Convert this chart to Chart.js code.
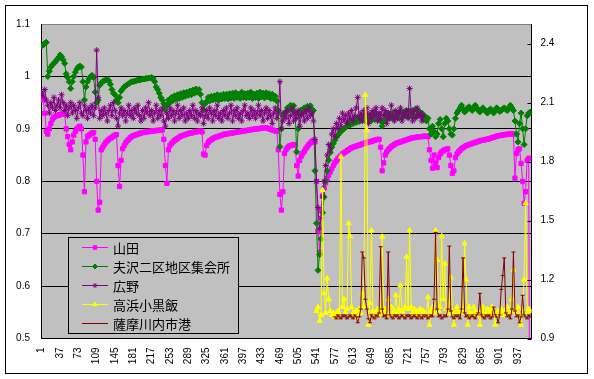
<!DOCTYPE html>
<html><head><meta charset="utf-8">
<script src="https://cdn.jsdelivr.net/npm/chart.js@4.4.0/dist/chart.umd.min.js"></script>
<style>html,body{margin:0;padding:0;background:#fff}#wrap{width:594px;height:379px;position:relative}</style>
</head><body><div id="wrap"><canvas id="c" width="594" height="379"></canvas></div>
<script>
// ---- tick labels ----
const xTickLabels = [1,37,73,109,145,181,217,253,289,325,361,397,433,469,505,541,577,613,649,685,721,757,793,829,865,901,937];
const leftTicks = [0.5,0.6,0.7,0.8,0.9,1.0,1.1];
const rightTicks = [0.9,1.2,1.5,1.8,2.1,2.4];
const seriesNames = ['山田','夫沢二区地区集会所','広野','高浜小黒飯','薩摩川内市港'];

// categories are sampled every gridStep (category index = start + gridStep*k)
const gridStep = 3;

// 山田 (left axis), categories 1..961
const yamadaStart = 1;
const yamada = [
0.958,0.955,0.93,0.895,0.89,0.9,0.91,0.918,0.922,0.924,0.925,0.926,0.927,0.928,0.93,0.928,0.9,0.885,0.87,0.86,
0.875,0.888,0.895,0.9,0.903,0.905,0.9,0.85,0.78,0.875,0.885,0.888,0.89,0.892,0.893,0.88,0.8,0.745,0.76,0.86,
0.865,0.87,0.874,0.877,0.88,0.882,0.884,0.886,0.888,0.889,0.83,0.79,0.84,0.862,0.868,0.873,0.877,0.88,0.883,0.885,
0.887,0.888,0.889,0.89,0.891,0.892,0.893,0.893,0.894,0.894,0.895,0.895,0.896,0.896,0.896,0.897,0.897,0.897,0.898,0.898,
0.88,0.83,0.796,0.86,0.868,0.872,0.875,0.878,0.88,0.882,0.884,0.886,0.887,0.888,0.889,0.89,0.891,0.892,0.892,0.893,
0.894,0.894,0.895,0.895,0.896,0.894,0.852,0.85,0.868,0.874,0.877,0.879,0.881,0.883,0.884,0.885,0.886,0.887,0.888,0.889,
0.89,0.89,0.891,0.891,0.892,0.892,0.893,0.893,0.894,0.894,0.895,0.895,0.896,0.896,0.897,0.897,0.898,0.898,0.899,0.899,
0.9,0.9,0.9,0.901,0.901,0.902,0.902,0.902,0.901,0.9,0.899,0.898,0.897,0.896,0.895,0.86,0.775,0.745,0.78,0.853,
0.86,0.864,0.867,0.868,0.869,0.87,0.87,0.83,0.81,0.84,0.848,0.853,0.857,0.862,0.866,0.87,0.873,0.876,0.878,0.875,
0.8,0.705,0.665,0.745,0.772,0.787,0.797,0.805,0.812,0.818,0.824,0.83,0.835,0.839,0.843,0.846,0.849,0.852,0.854,0.856,
0.858,0.86,0.862,0.864,0.865,0.866,0.867,0.868,0.869,0.87,0.871,0.872,0.873,0.874,0.875,0.875,0.876,0.877,0.878,0.879,
0.88,0.88,0.865,0.82,0.835,0.85,0.856,0.86,0.863,0.866,0.868,0.87,0.872,0.873,0.874,0.875,0.876,0.877,0.878,0.879,
0.88,0.881,0.882,0.883,0.883,0.884,0.884,0.885,0.885,0.885,0.886,0.886,0.886,0.885,0.86,0.84,0.825,0.85,0.835,0.826,
0.845,0.852,0.856,0.858,0.86,0.861,0.862,0.85,0.83,0.815,0.82,0.845,0.852,0.856,0.859,0.862,0.864,0.866,0.868,0.869,
0.87,0.871,0.872,0.873,0.874,0.875,0.876,0.877,0.878,0.878,0.879,0.88,0.88,0.881,0.882,0.883,0.884,0.885,0.886,0.887,
0.887,0.888,0.888,0.889,0.889,0.89,0.89,0.89,0.891,0.89,0.806,0.853,0.86,0.862,0.834,0.8,0.758,0.78,0.84,0.844,
0.0];

// 夫沢二区地区集会所 (left axis), categories 1..961
const futazawaStart = 1;
const futazawa = [
1.058,1.06,1.063,1.065,1.0,1.01,1.018,1.022,1.025,1.028,1.032,1.036,1.041,1.038,1.032,1.025,1.005,0.998,0.99,0.977,
0.99,1.0,1.008,1.014,1.018,1.02,1.018,0.99,0.955,0.98,0.99,0.996,1.0,1.002,0.998,0.97,0.95,0.955,0.983,0.988,
0.99,0.992,0.993,0.994,0.992,0.985,0.975,0.968,0.965,0.955,0.95,0.96,0.972,0.976,0.98,0.982,0.984,0.986,0.988,0.99,
0.99,0.991,0.992,0.993,0.993,0.994,0.995,0.995,0.996,0.996,0.997,0.997,0.998,0.996,0.99,0.98,0.975,0.968,0.96,0.955,
0.948,0.936,0.945,0.955,0.95,0.96,0.954,0.963,0.956,0.965,0.958,0.967,0.96,0.969,0.962,0.97,0.964,0.972,0.965,0.974,
0.968,0.976,0.97,0.975,0.966,0.95,0.936,0.948,0.952,0.96,0.953,0.962,0.955,0.963,0.956,0.965,0.955,0.964,0.957,0.966,
0.958,0.966,0.957,0.967,0.959,0.968,0.958,0.969,0.96,0.966,0.958,0.97,0.96,0.967,0.959,0.968,0.96,0.97,0.958,0.966,
0.96,0.968,0.958,0.97,0.961,0.968,0.959,0.969,0.961,0.967,0.958,0.966,0.957,0.962,0.953,0.935,0.866,0.9,0.925,0.93,
0.933,0.94,0.936,0.945,0.938,0.944,0.932,0.856,0.9,0.928,0.936,0.932,0.94,0.935,0.943,0.937,0.944,0.936,0.935,0.82,
0.72,0.63,0.66,0.69,0.74,0.77,0.8,0.82,0.84,0.855,0.865,0.872,0.878,0.884,0.888,0.892,0.895,0.898,0.9,0.903,
0.905,0.912,0.907,0.916,0.91,0.92,0.912,0.922,0.914,0.924,0.916,0.926,0.915,0.927,0.917,0.925,0.916,0.928,0.918,0.93,
0.92,0.928,0.915,0.905,0.915,0.925,0.918,0.93,0.92,0.928,0.92,0.932,0.922,0.93,0.921,0.934,0.922,0.932,0.924,0.935,
0.923,0.934,0.925,0.935,0.924,0.938,0.926,0.934,0.925,0.93,0.918,0.924,0.915,0.92,0.9,0.89,0.905,0.895,0.885,0.89,
0.91,0.918,0.9,0.885,0.91,0.92,0.915,0.9,0.89,0.888,0.9,0.92,0.93,0.935,0.94,0.945,0.938,0.932,0.935,0.94,
0.942,0.938,0.935,0.94,0.945,0.94,0.935,0.932,0.936,0.94,0.937,0.933,0.93,0.935,0.938,0.934,0.93,0.935,0.94,0.937,
0.933,0.935,0.938,0.94,0.937,0.935,0.94,0.945,0.94,0.935,0.915,0.89,0.875,0.91,0.93,0.9,0.87,0.9,0.925,0.93,
0.932];

// 広野 (left axis), categories 1..751
const hironoStart = 1;
const hirono = [
0.97,0.962,0.975,0.955,0.945,0.93,0.95,0.94,0.96,0.935,0.945,0.955,0.94,0.965,0.95,0.935,0.945,0.925,0.94,0.95,
0.93,0.945,0.935,0.92,0.94,0.95,0.93,0.925,0.945,0.935,0.92,0.94,0.93,0.945,0.925,0.94,1.05,0.96,0.92,0.935,
0.925,0.94,0.93,0.915,0.935,0.945,0.925,0.95,0.935,0.92,0.905,0.93,0.94,0.925,0.935,0.915,0.93,0.945,0.925,0.935,
0.92,0.94,0.93,0.945,0.925,0.915,0.935,0.92,0.94,0.93,0.95,0.925,0.935,0.915,0.93,0.945,0.92,0.935,0.925,0.94,
0.915,0.905,0.93,0.92,0.94,0.925,0.935,0.915,0.93,0.945,0.92,0.935,0.925,0.94,0.915,0.93,0.92,0.935,0.925,0.945,
0.92,0.935,0.915,0.93,0.925,0.94,0.91,0.925,0.935,0.92,0.94,0.93,0.915,0.935,0.925,0.945,0.92,0.93,0.915,0.935,
0.925,0.94,0.92,0.93,0.945,0.915,0.935,0.925,0.94,0.92,0.93,0.915,0.935,0.945,0.925,0.93,0.92,0.94,0.925,0.935,
0.92,0.93,0.945,0.925,0.935,0.915,0.93,0.94,0.92,0.935,0.925,0.91,0.93,0.94,0.92,0.93,0.99,0.9,0.915,0.93,
0.92,0.935,0.91,0.925,0.94,0.915,0.93,0.92,0.935,0.905,0.925,0.93,0.915,0.935,0.92,0.94,0.925,0.93,0.915,0.88,
0.8,0.75,0.71,0.73,0.77,0.8,0.83,0.85,0.87,0.86,0.89,0.9,0.885,0.91,0.9,0.92,0.905,0.93,0.915,0.925,
0.91,0.93,0.92,0.935,0.915,0.925,0.94,0.96,0.92,0.93,0.915,0.935,0.925,0.94,0.91,0.93,0.92,0.935,0.925,0.94,
0.915,0.93,0.92,0.94,0.925,0.935,0.91,0.93,0.92,0.945,0.925,0.915,0.935,0.92,0.93,0.94,0.915,0.93,0.925,0.935,
0.92,0.977,0.93,0.915,0.935,0.92,0.94,0.925,0.93,0.915,0.925];

// 高浜小黒飯 (right axis), categories 541..961
const takahamaStart = 541;
const takahama = [
1.04,1.06,0.99,1.02,1.655,1.13,1.03,1.206,1.1,1.04,1.02,1.03,1.01,1.03,1.04,1.02,1.825,1.06,1.1,1.03,
1.05,1.486,1.42,1.06,1.03,1.02,1.04,1.01,1.05,1.03,1.13,1.06,2.139,1.96,0.97,1.08,1.45,1.04,1.02,1.03,
1.05,1.02,1.04,1.418,1.03,1.05,1.02,1.1,1.03,1.06,1.02,1.04,1.12,1.03,1.05,1.17,1.04,1.02,1.06,1.316,
1.05,1.45,1.06,1.03,1.05,1.02,1.04,1.03,1.05,1.02,1.04,1.03,1.02,1.11,0.97,1.04,1.06,1.03,1.45,1.3,
1.04,1.06,1.42,1.1,1.28,1.05,1.03,1.08,1.21,1.04,0.97,1.03,1.06,1.02,1.04,1.03,1.05,1.384,1.2,0.97,
1.06,1.03,1.02,1.06,1.04,1.02,1.03,0.97,1.04,1.06,1.02,1.03,1.05,1.02,1.04,1.06,1.03,0.97,1.02,1.04,
1.03,1.05,1.02,1.04,1.03,1.06,1.02,1.04,1.1,1.25,1.04,1.03,1.06,1.02,0.97,1.05,1.2,1.588,1.03,1.05,
1.04];

// 薩摩川内市港 (right axis), categories 577..961
const satsumaStart = 577;
const satsuma = [
1.01,1.0,1.02,1.01,1.0,1.02,1.01,1.02,1.0,1.01,1.02,1.01,1.0,1.02,1.01,0.98,1.01,1.05,1.34,1.31,
1.1,1.05,1.0,0.98,1.02,1.01,1.0,1.02,1.01,1.03,1.367,1.05,1.01,1.02,1.0,1.34,1.02,1.01,1.0,1.02,
1.01,1.02,1.0,1.01,1.02,1.01,1.0,1.02,1.01,1.02,1.0,1.01,1.02,1.01,1.0,1.02,1.01,1.0,1.02,1.01,
1.02,1.0,1.01,1.02,1.01,1.1,1.44,1.05,1.01,1.02,1.0,1.01,1.02,1.01,1.05,1.37,1.04,1.01,1.0,1.02,
1.01,1.02,1.0,1.05,1.31,1.03,1.01,1.02,1.0,1.01,1.02,1.01,1.0,1.02,1.03,1.13,1.02,1.01,1.0,1.02,
1.01,1.02,1.0,1.01,1.06,1.02,1.01,0.98,1.02,1.15,1.22,1.31,1.03,1.01,1.02,1.0,1.05,1.34,1.04,1.01,
1.02,0.98,1.01,1.12,1.02,1.01,1.0,1.02,1.01];

const toPoints = (start, vals) => vals.map((v, k) => ({x: start + gridStep * k, y: v}));

const colors = ['#FF00FF','#008000','#800080','#FFFF00','#800000'];
const styles = ['rect','rectRot','star','triangle','line'];

const framePlugin = {
  id: 'frame',
  beforeDraw(chart) {
    const {ctx, chartArea: a} = chart;
    ctx.save();
    ctx.fillStyle = '#fff';
    ctx.fillRect(0, 0, chart.width, chart.height);
    ctx.strokeStyle = '#000';
    ctx.lineWidth = 1;
    ctx.strokeRect(5.5, 5.5, 582, 368);
    ctx.fillStyle = '#C0C0C0';
    ctx.fillRect(a.left, a.top, a.right - a.left, a.bottom - a.top);
    ctx.restore();
  },
  afterDatasetsDraw(chart) {
    const {ctx, chartArea: a} = chart;
    const s = chart.scales.y2;
    ctx.save();
    ctx.strokeStyle = '#000';
    ctx.lineWidth = 1;
    rightTicks.forEach(v => {
      const y = Math.round(s.getPixelForValue(v)) + 0.5;
      ctx.beginPath(); ctx.moveTo(a.right - 4, y); ctx.lineTo(a.right, y); ctx.stroke();
    });
    // legend
    const lx = 68.5, ly = 237.5, lw = 170, lh = 96;
    ctx.fillStyle = '#C0C0C0';
    ctx.fillRect(lx, ly, lw, lh);
    ctx.strokeStyle = '#000';
    ctx.strokeRect(lx, ly, lw, lh);
    ctx.font = '13px "Noto Sans CJK JP"';
    ctx.textBaseline = 'middle';
    ctx.textAlign = 'left';
    seriesNames.forEach((name, r) => {
      const y = Math.round(247 + r * 19.1) + 0.5;
      ctx.strokeStyle = colors[r];
      ctx.fillStyle = colors[r];
      ctx.lineWidth = 1;
      ctx.beginPath(); ctx.moveTo(82, y); ctx.lineTo(108, y); ctx.stroke();
      Chart.helpers.drawPoint(ctx, {pointStyle: styles[r], radius: r === 4 ? 2 : 2.5, rotation: 0, borderWidth: 1}, 95, y);
      ctx.fillStyle = '#000';
      ctx.fillText(name, 113, y + 1);
    });
    ctx.restore();
  }
};

function ds(i, start, vals, axis) {
  return {
    label: seriesNames[i],
    data: toPoints(start, vals),
    borderColor: colors[i],
    backgroundColor: colors[i],
    borderWidth: 1,
    pointStyle: styles[i],
    pointRadius: i === 4 ? 2 : 3,
    pointBorderWidth: 1,
    pointBorderColor: colors[i],
    pointBackgroundColor: colors[i],
    yAxisID: axis,
    order: 5 - i,
    tension: 0
  };
}

const tickFont = {family: '"Liberation Sans", Arial, sans-serif', size: 10};

new Chart(document.getElementById('c'), {
  type: 'line',
  data: {
    datasets: [
      ds(0, yamadaStart, yamada, 'y'),
      ds(1, futazawaStart, futazawa, 'y'),
      ds(2, hironoStart, hirono, 'y'),
      ds(4, satsumaStart, satsuma, 'y2'),
      ds(3, takahamaStart, takahama, 'y2')
    ]
  },
  options: {
    responsive: false,
    devicePixelRatio: 1,
    animation: false,
    events: [],
    layout: {padding: {top: 24, left: 0, right: 0, bottom: 0}},
    plugins: {legend: {display: false}, tooltip: {enabled: false}},
    scales: {
      x: {
        type: 'linear', min: -0.4, max: 963.5,
        afterBuildTicks: s => { s.ticks = xTickLabels.map(v => ({value: v})); },
        afterFit: s => { s.height = 40.5; },
        ticks: {autoSkip: false, minRotation: 90, maxRotation: 90, padding: 9, color: '#000', font: tickFont, callback: v => String(v)},
        grid: {display: false, drawTicks: false},
        border: {display: true, color: '#000', width: 1}
      },
      y: {
        type: 'linear', position: 'left', min: 0.5, max: 1.1,
        afterBuildTicks: s => { s.ticks = leftTicks.map(v => ({value: v})); },
        afterFit: s => { s.width = 41; },
        ticks: {padding: 11, color: '#000', font: tickFont, callback: v => String(v)},
        grid: {drawTicks: false, lineWidth: 1, color: c => (c.tick && c.tick.value === 1.1) ? '#808080' : '#000'},
        border: {display: true, color: '#000', width: 1}
      },
      y2: {
        type: 'linear', position: 'right', min: 0.9, max: 2.5,
        afterBuildTicks: s => { s.ticks = rightTicks.map(v => ({value: v})); },
        afterFit: s => { s.width = 62.5; },
        ticks: {padding: 9, color: '#000', font: tickFont, callback: v => String(v)},
        grid: {drawOnChartArea: false, drawTicks: false},
        border: {display: true, color: '#000', width: 1}
      }
    }
  },
  plugins: [framePlugin]
});
</script>
</body></html>
